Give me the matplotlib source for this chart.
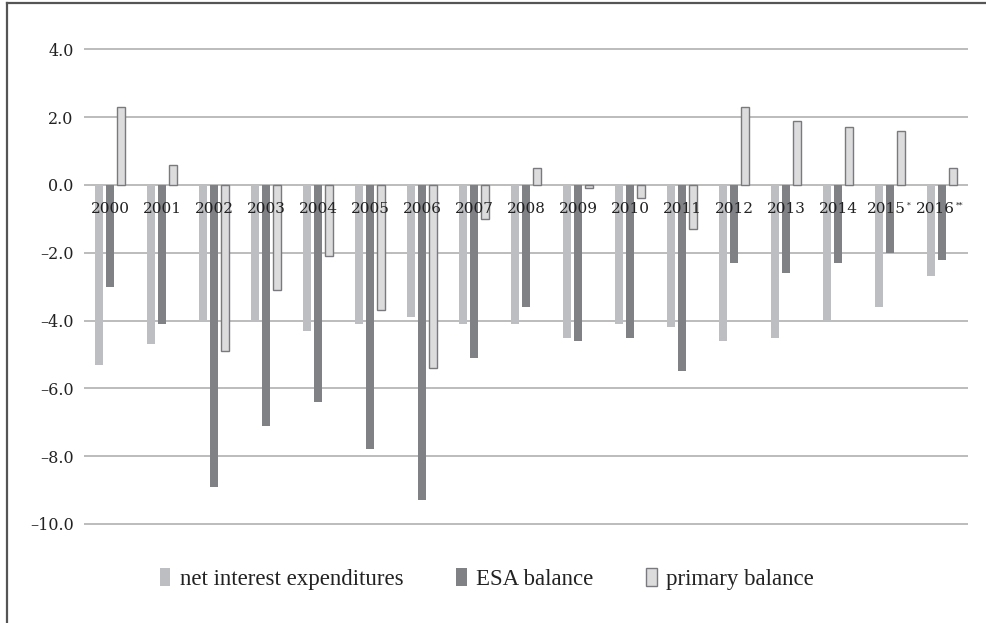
import numpy as np
import matplotlib
matplotlib.use("Agg")
import matplotlib.pyplot as plt
from matplotlib.lines import Line2D

years = ["2000", "2001", "2002", "2003", "2004", "2005", "2006", "2007", "2008",
         "2009", "2010", "2011", "2012", "2013", "2014", "2015*", "2016**"]
net_interest = [-5.3, -4.7, -4.0, -4.0, -4.3, -4.1, -3.9, -4.1, -4.1,
                -4.5, -4.1, -4.2, -4.6, -4.5, -4.0, -3.6, -2.7]
esa_balance = [-3.0, -4.1, -8.9, -7.1, -6.4, -7.8, -9.3, -5.1, -3.6,
               -4.6, -4.5, -5.5, -2.3, -2.6, -2.3, -2.0, -2.2]
primary_balance = [2.3, 0.6, -4.9, -3.1, -2.1, -3.7, -5.4, -1.0, 0.5,
                   -0.1, -0.4, -1.3, 2.3, 1.9, 1.7, 1.6, 0.5]
y_ticks = [4.0, 2.0, 0.0, -2.0, -4.0, -6.0, -8.0, -10.0]

W, H = 987, 623
fig = plt.figure(figsize=(W / 100, H / 100), dpi=100)

# axes placed so 4.0 sits at y=49px and -10.0 at y=524px
ylo, yhi = -10.3, 4.3
ppu = (524 - 49.3) / 14.0
top_px = 49.3 - (yhi - 4.0) * ppu
bot_px = 524 + (-10.0 - ylo) * ppu
ax = fig.add_axes([84 / W, 1 - bot_px / H, (968 - 84) / W, (bot_px - top_px) / H])

x = np.arange(len(years))
bw = 0.165
step = 0.21
ax.bar(x - step, net_interest, bw, color="#bdbec1", label="net interest expenditures")
ax.bar(x, esa_balance, bw, color="#808185", label="ESA balance")
ax.bar(x + step, primary_balance, bw, color="#dcdcdd", edgecolor="#7a7a7e",
       linewidth=1.0, label="primary balance")

ax.set_xlim(-0.5, len(years) - 0.5)
ax.set_ylim(ylo, yhi)
ax.set_yticks(y_ticks)
ax.set_yticklabels([f"{v:.1f}".replace("-", "\u2013") for v in y_ticks],
                   family="DejaVu Serif", fontsize=11.5, color="#222222")
ax.set_xticks([])
ax.tick_params(axis="y", length=0, pad=7.5)
ax.yaxis.grid(True, color="#a9a9ab", linewidth=1.1)
ax.set_axisbelow(True)
for s in ax.spines.values():
    s.set_visible(False)

# year labels sit just under the zero line; footnote stars drawn small
for i, lab in enumerate(years):
    year = lab.rstrip("*")
    stars = lab[len(year):]
    shift = -2.5 * len(stars)
    t = ax.annotate(year, xy=(i, -0.72), xytext=(shift, 0), textcoords="offset points",
                    ha="center", va="center", family="DejaVu Serif",
                    fontsize=11, color="#222222")
    if stars:
        ax.annotate(stars, xy=(1, 1), xycoords=t, xytext=(1, 0.5),
                    textcoords="offset points", ha="left", va="top",
                    family="DejaVu Serif", fontsize=5.5, color="#222222")

leg = fig.legend(loc="center", bbox_to_anchor=(487 / W, 1 - 579 / H), ncol=3,
                 frameon=False, prop={"family": "Liberation Serif", "size": 16.5},
                 handlelength=0.45, handleheight=0.82, handletextpad=0.42,
                 columnspacing=2.3)
for t in leg.get_texts():
    t.set_color("#222222")

# outer frame (only left and top edges fall inside the image)
fig.add_artist(Line2D([7 / W, 7 / W], [0, 1 - 2.5 / H], color="#555555", linewidth=1.6))
fig.add_artist(Line2D([7 / W, 1], [1 - 2.5 / H, 1 - 2.5 / H], color="#555555", linewidth=1.6))

fig.savefig("out.png", dpi=100)
